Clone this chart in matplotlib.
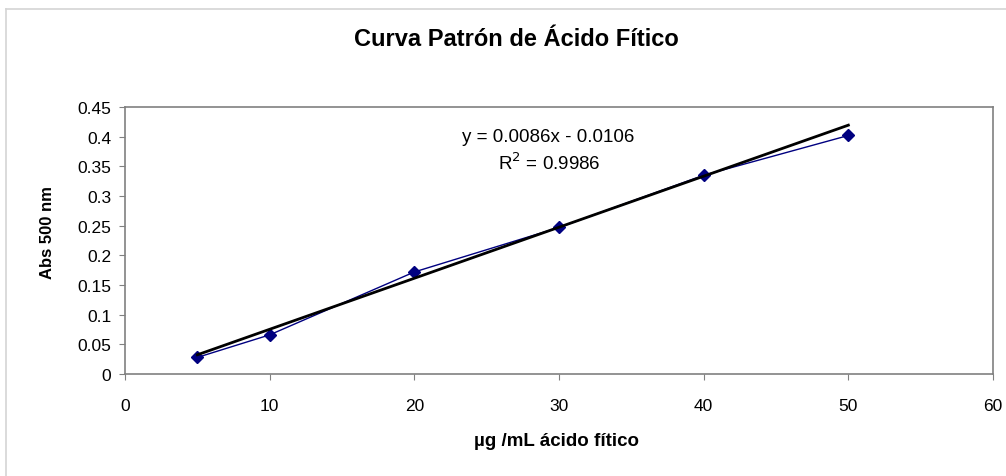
import matplotlib
matplotlib.use("Agg")
import matplotlib.pyplot as plt
from matplotlib.lines import Line2D

plt.rcParams["font.family"] = ["Liberation Sans", "DejaVu Sans"]

# standard curve data
conc = [5, 10, 20, 30, 40, 50]
absorbance = [0.028, 0.066, 0.172, 0.247, 0.335, 0.402]
slope = 0.0086
intercept = -0.0106
r2 = 0.9986

x_ticks = [0, 10, 20, 30, 40, 50, 60]
y_ticks = [0, 0.05, 0.1, 0.15, 0.2, 0.25, 0.3, 0.35, 0.4, 0.45]
y_tick_labels = ["0", "0.05", "0.1", "0.15", "0.2", "0.25", "0.3", "0.35", "0.4", "0.45"]

fig = plt.figure(figsize=(10.06, 4.77), dpi=100)
ax = fig.add_axes([0.1243, 0.2138, 0.8628, 0.5598])

# outer chart border (only top and left visible)
fig.add_artist(Line2D([6 / 1006, 6 / 1006], [0, 1 - 10 / 477], transform=fig.transFigure,
                      color="#d4d4d4", lw=1.2))
fig.add_artist(Line2D([6 / 1006, 1], [1 - 10 / 477, 1 - 10 / 477], transform=fig.transFigure,
                      color="#d4d4d4", lw=1.2))

ax.plot(conc, absorbance, color="#000080", lw=1, marker="D", markersize=6.5,
        markerfacecolor="#000080", markeredgecolor="#000080", zorder=3)

fit_x = [conc[0], conc[-1]]
fit_y = [slope * v + intercept for v in fit_x]
ax.plot(fit_x, fit_y, color="black", lw=2, zorder=4)

ax.set_xlim(0, 60)
ax.set_ylim(0, 0.45)
ax.set_xticks(x_ticks)
ax.set_yticks(y_ticks)
ax.set_yticklabels(y_tick_labels)
ax.tick_params(labelsize=12.5, length=4, color="#808080")
ax.tick_params(axis="x", pad=13)
ax.tick_params(axis="y", pad=6)
for s in ax.spines.values():
    s.set_color("#808080")
    s.set_linewidth(1.2)

ax.text(548 / 1006, 1 - 137 / 477, f"y = {slope}x - {abs(intercept)}", transform=fig.transFigure,
        ha="center", va="center", fontsize=13.5)
ax.text(549 / 1006, 1 - 163 / 477, f"R$^2$ = {r2}", transform=fig.transFigure,
        ha="center", va="center", fontsize=13.5)

fig.text(556 / 1006, 1 - 442 / 477, "µg /mL ácido fítico", ha="center", va="center",
         fontsize=13.5, fontweight="bold")
fig.text(47 / 1006, 1 - 233 / 477, "Abs 500 nm", ha="center", va="center", rotation=90,
         fontsize=12, fontweight="bold")
fig.text(516 / 1006, 1 - 40 / 477, "Curva Patrón de Ácido Fítico", ha="center", va="center",
         fontsize=17, fontweight="bold")

fig.savefig("out.png", dpi=100)
